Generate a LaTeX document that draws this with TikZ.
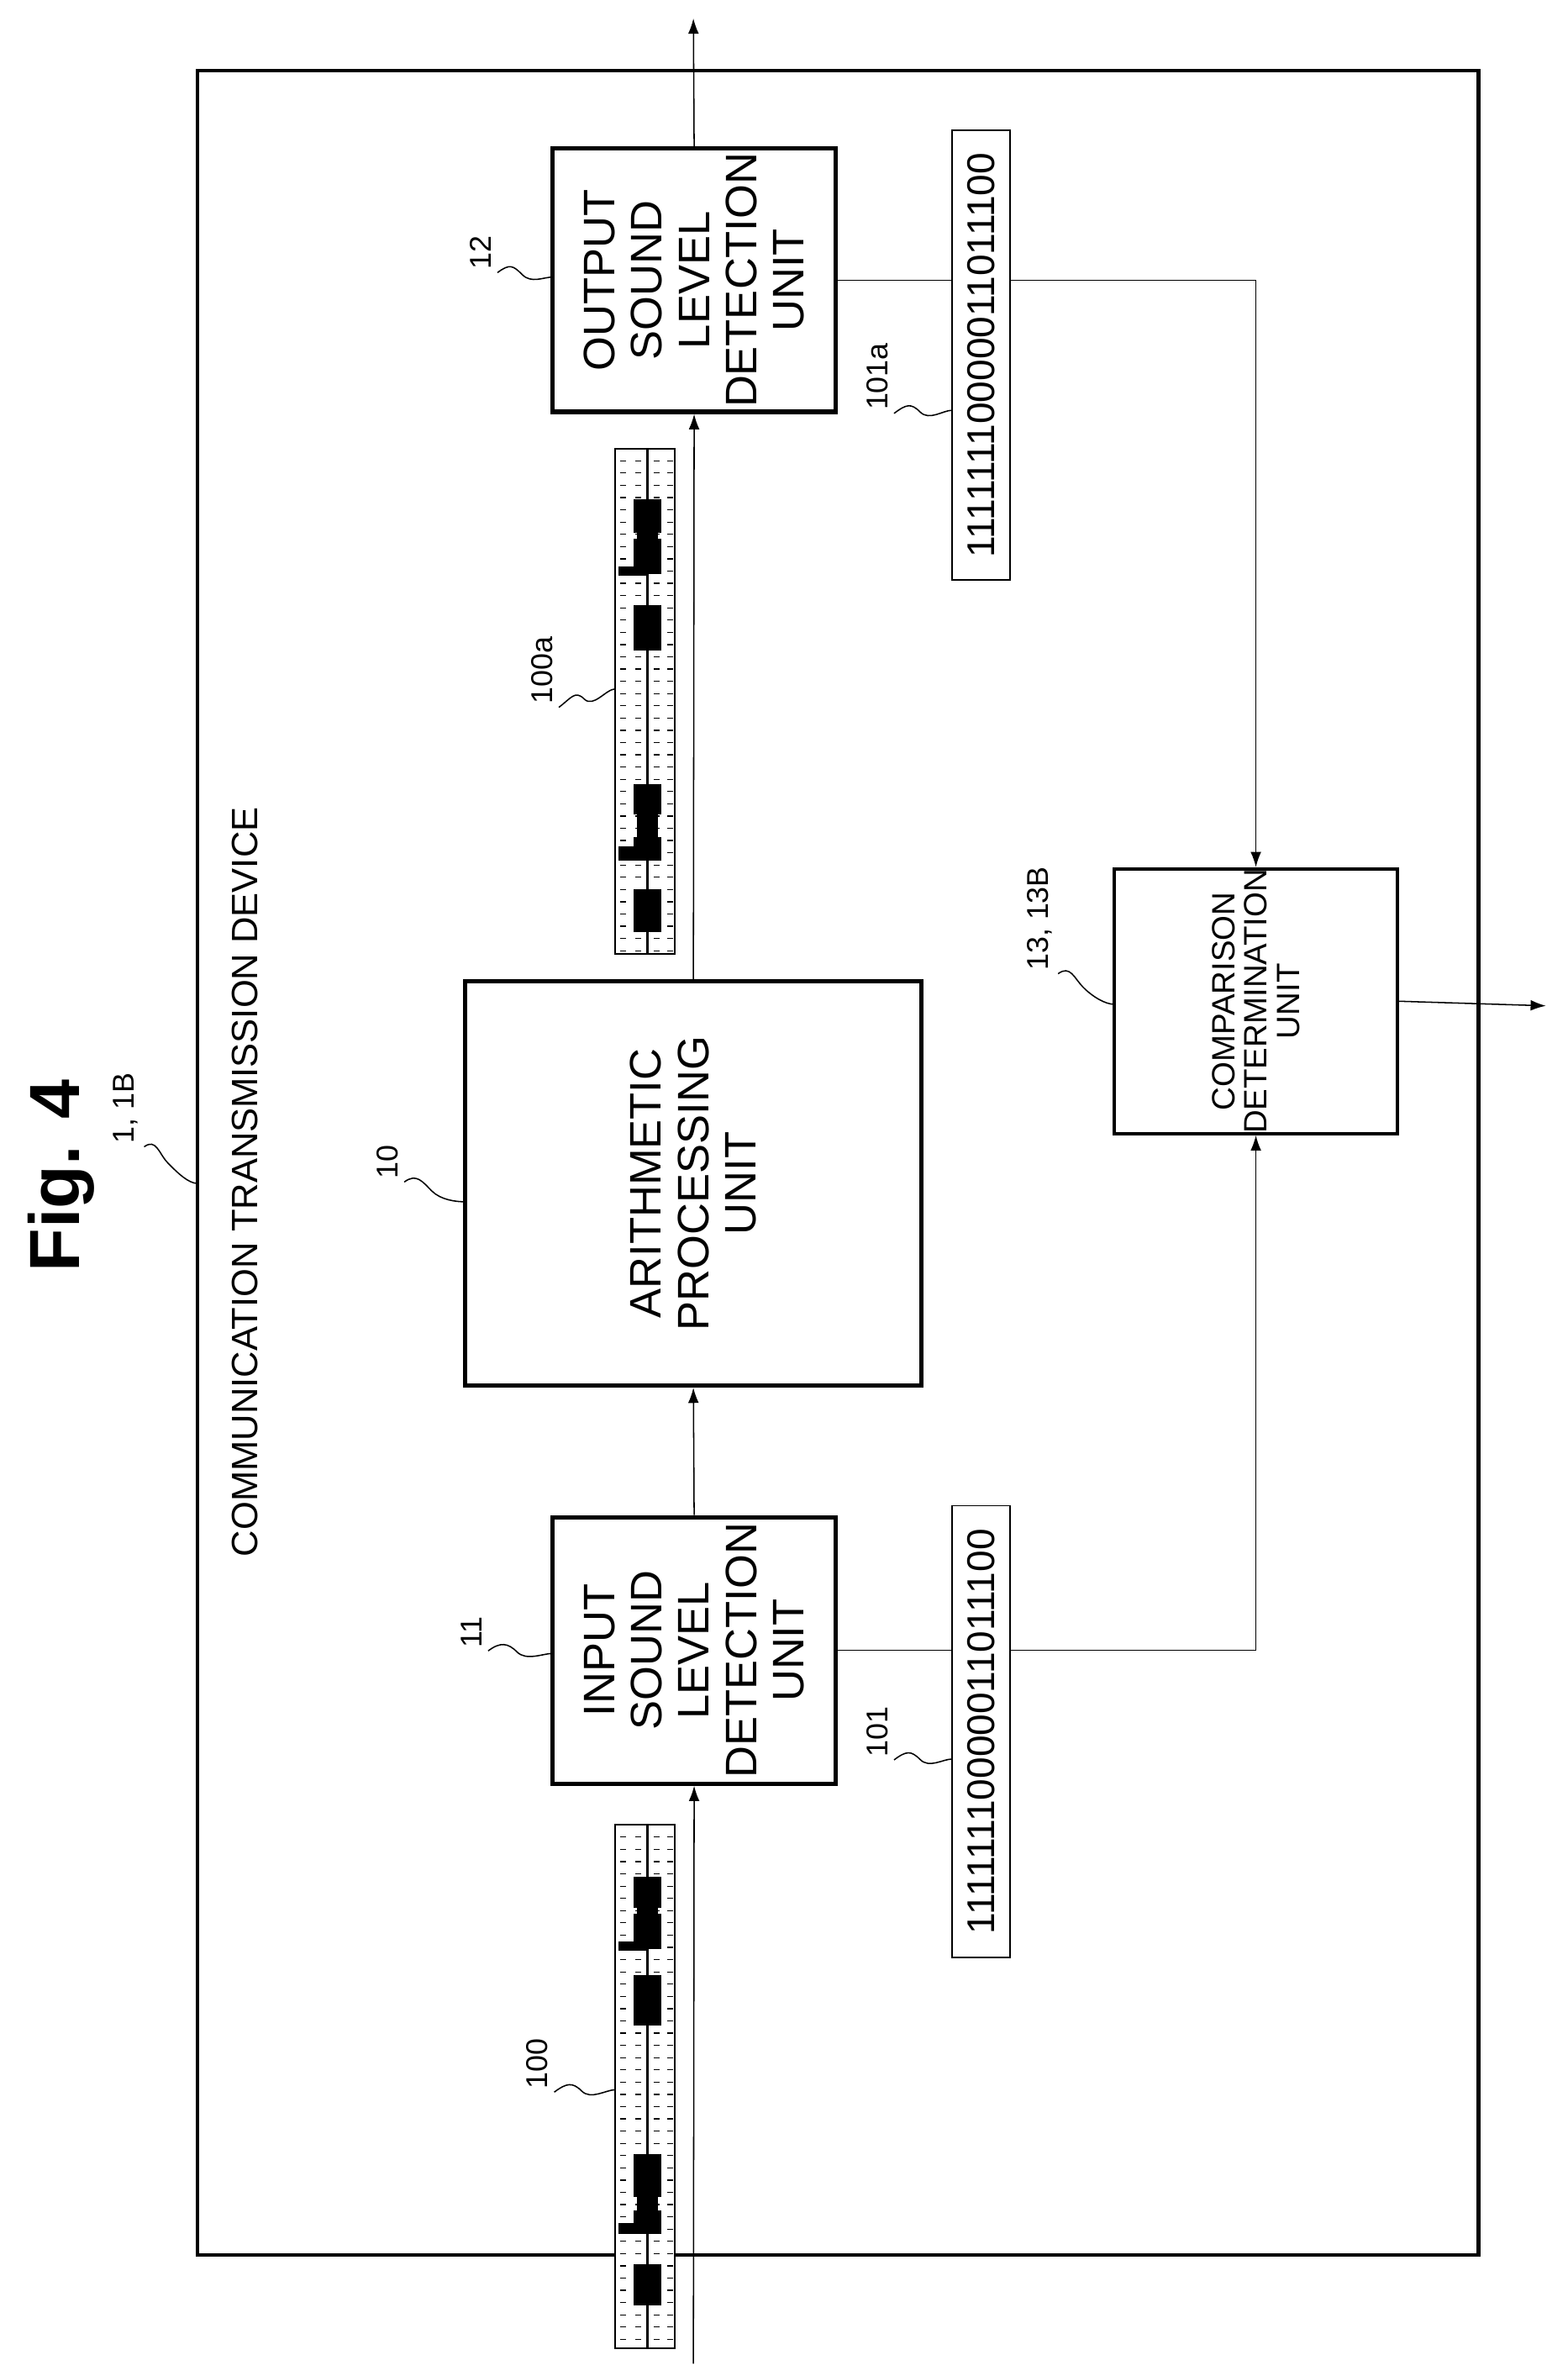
\documentclass[tikz,border=0pt]{standalone}
\usepackage{fontspec}
\setmainfont{Liberation Sans}
\usetikzlibrary{arrows.meta,calc}
\begin{document}
\begin{tikzpicture}[x=0.05cm,y=-0.05cm,
  box/.style={draw,line width=4pt,rectangle,inner sep=0pt,align=center,rotate=90,fill=white},
  bits/.style={draw,line width=1.5pt,rectangle,inner sep=0pt,fill=white,rotate=90,font=\fontsize{36}{36}\selectfont},
  lab/.style={rotate=90,inner sep=0pt,font=\fontsize{28}{28}\selectfont},
  con/.style={line width=1.2pt},
  arr/.style={con,-{Latex[length=0.5cm,width=0.35cm]}},
  sq/.style={line width=1.2pt}]
\useasboundingbox (0,0) rectangle (1024,1552);
\newcommand\sqg[2]{\draw[sq] (#1) .. controls +(8,-6) and +(-6,-6) .. ($(#1)!0.45!(#2)$) .. controls +(6,6) and +(-6,0) .. (#2);}
\newcommand\blob[2]{\fill (414,#1) rectangle (432,#2);}
% outer box
\draw[line width=3.5pt] (129,46) rectangle (966,1473);
\node[rotate=90,font=\fontsize{66}{66}\bfseries] (fig) at (40,768) {Fig. 4};
\node[lab] (l1) at (82,724) {1, 1B};
\node[rotate=90,font=\fontsize{34}{34}\selectfont] (title) at (160,772) {COMMUNICATION TRANSMISSION DEVICE};
% boxes
\node[box,minimum width=8.6cm,minimum height=9.25cm,font=\fontsize{41}{44}\selectfont] (b12) at (453.5,183) {OUTPUT\\SOUND\\LEVEL\\DETECTION\\UNIT};
\node[box,minimum width=8.7cm,minimum height=9.25cm,font=\fontsize{41}{44}\selectfont] (b11) at (453.5,1078) {INPUT\\SOUND\\LEVEL\\DETECTION\\UNIT};
\node[box,minimum width=13.2cm,minimum height=14.9cm,font=\fontsize{41}{44}\selectfont] (b10) at (453,773) {ARITHMETIC\\PROCESSING\\UNIT};
\node[box,line width=3pt,minimum width=8.6cm,minimum height=9.25cm,font=\fontsize{30}{30}\selectfont] (b13) at (820.5,654) {COMPARISON\\DETERMINATION\\UNIT};
% connectors
\coordinate (in) at (453,1544);
\coordinate (out) at (453,12);
\coordinate (res) at (1010,657);
\draw[arr] (in) -- (b11.west);
\draw[arr] (b11.east) -- (b10.west);
\draw[arr] (b10.east) -- (b12.west);
\draw[arr] (b12.east) -- (out);
\draw[arr] (b11.south) -| (b13.west);
\draw[arr] (b12.south) -| (b13.east);
\draw[arr] (b13.south) -- (res);
% bit strings
\node[bits,minimum width=14.7cm,minimum height=1.9cm] (s101a) at (641,232) {11111110000011011100};
\node[bits,minimum width=14.75cm,minimum height=1.9cm] (s101) at (641,1131) {11111110000011011100};
% waveform strips
\foreach \t/\b in {1192/1534, 293/623}{
  \draw[line width=1.5pt,fill=white] (402,\t) rectangle (441,\b);
  \pgfmathsetmacro\st{\t+8}
  \foreach \yy in {\st,\the\numexpr\t+16\relax,...,\b}{
    \draw[line width=1pt] (405,\yy) -- (409,\yy) (415,\yy) -- (419,\yy) (427,\yy) -- (431,\yy) (436,\yy) -- (440,\yy);}
  \draw[line width=2.5pt] (423,\t) -- (423,\b);
}
% blobs 100
\blob{1226}{1246}\fill (416,1246) rectangle (430,1250);\blob{1250}{1273}\fill (404,1268) rectangle (423,1274);
\blob{1290}{1323}\blob{1407}{1435}\fill (416,1435) rectangle (430,1444);\blob{1444}{1459}\fill (404,1452) rectangle (423,1459);
\blob{1479}{1506}
% blobs 100a
\blob{326}{348}\fill (416,348) rectangle (430,352);\blob{352}{375}\fill (404,370) rectangle (423,376);
\blob{395}{425}\blob{512}{532}\fill (416,532) rectangle (430,547);\blob{547}{562}\fill (404,553) rectangle (423,562);
\blob{581}{609}
% labels
\node[lab] (l10) at (253,759) {10};
\node[lab] (l12) at (314,165) {12};
\node[lab] (l11) at (308,1066) {11};
\node[lab] (l100a) at (354,438) {100a};
\node[lab] (l100) at (351,1348) {100};
\node[lab] (l101a) at (573,246) {101a};
\node[lab] (l101) at (573,1131) {101};
\node[lab] (l13) at (679,600) {13, 13B};
\sqg{$(l1.south west)+(4,2)$}{129,773}
\sqg{$(l10.south west)+(4,2)$}{304,785}
\sqg{$(l12.south west)+(4,2)$}{361,181}
\sqg{$(l11.south west)+(4,2)$}{361,1080}
\sqg{$(l100a.south west)+(4,2)$}{402,450}
\sqg{$(l100.south west)+(4,2)$}{402,1365}
\sqg{$(l101a.south west)+(4,2)$}{622,268}
\sqg{$(l101.south west)+(4,2)$}{622,1149}
\sqg{$(l13.south west)+(4,2)$}{728,656}
\end{tikzpicture}
\end{document}
